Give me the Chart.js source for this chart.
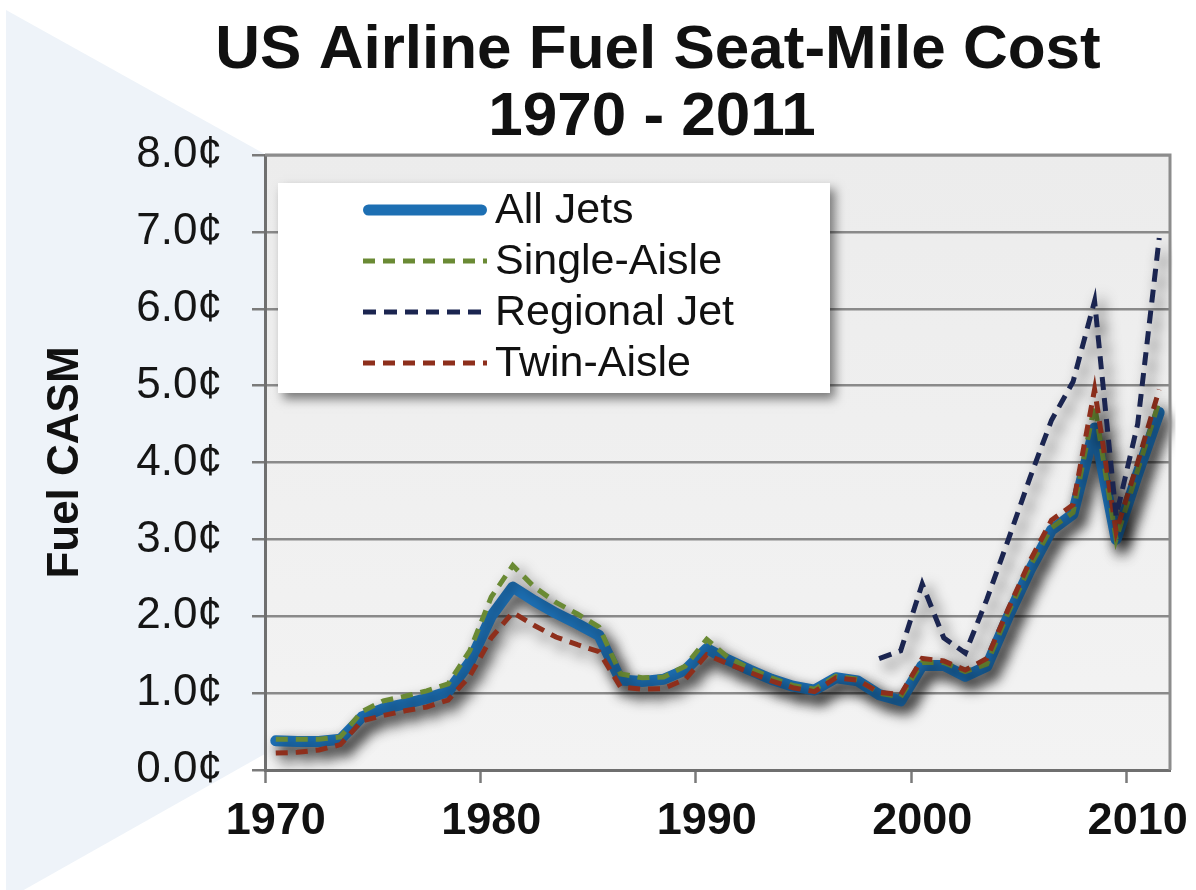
<!DOCTYPE html>
<html>
<head>
<meta charset="utf-8">
<title>US Airline Fuel Seat-Mile Cost 1970 - 2011</title>
<script src="https://cdn.jsdelivr.net/npm/chart.js@4.4.1/dist/chart.umd.min.js"></script>
<style>
  html, body { margin: 0; padding: 0; background: #ffffff; }
  #wrap { width: 1196px; height: 890px; position: relative; }
</style>
</head>
<body>
<div id="wrap"><canvas id="chart" width="1196" height="890"></canvas></div>
<script>
// Fuel cost per available seat-mile, US cents
const years = [
  1970, 1971, 1972, 1973, 1974, 1975, 1976, 1977, 1978, 1979,
  1980, 1981, 1982, 1983, 1984, 1985, 1986, 1987, 1988, 1989,
  1990, 1991, 1992, 1993, 1994, 1995, 1996, 1997, 1998, 1999,
  2000, 2001, 2002, 2003, 2004, 2005, 2006, 2007, 2008, 2009,
  2010, 2011
];

const allJets = [
  0.38, 0.37, 0.37, 0.40, 0.69, 0.80, 0.86, 0.93, 1.02, 1.40,
  2.00, 2.38, 2.20, 2.04, 1.90, 1.75, 1.17, 1.15, 1.18, 1.30,
  1.58, 1.43, 1.30, 1.18, 1.09, 1.04, 1.20, 1.16, 0.98, 0.90,
  1.36, 1.36, 1.22, 1.35, 2.00, 2.60, 3.12, 3.33, 4.45, 3.00,
  3.85, 4.65
];

const singleAisle = [
  0.40, 0.40, 0.40, 0.43, 0.76, 0.90, 0.96, 1.03, 1.12, 1.55,
  2.25, 2.66, 2.38, 2.18, 2.03, 1.86, 1.25, 1.20, 1.21, 1.35,
  1.70, 1.46, 1.32, 1.20, 1.10, 1.05, 1.22, 1.18, 1.00, 0.95,
  1.40, 1.40, 1.28, 1.38, 2.05, 2.65, 3.15, 3.35, 4.75, 3.00,
  3.90, 4.80
];

const regionalJet = [
  null, null, null, null, null, null, null, null, null, null,
  null, null, null, null, null, null, null, null, null, null,
  null, null, null, null, null, null, null, null, 1.45, 1.55,
  2.42, 1.72, 1.52, 2.22, 3.00, 3.80, 4.55, 5.05, 6.10, 3.30,
  4.50, 6.92
];

const twinAisle = [
  0.22, 0.23, 0.26, 0.33, 0.64, 0.71, 0.77, 0.82, 0.91, 1.22,
  1.72, 2.05, 1.88, 1.73, 1.63, 1.54, 1.08, 1.05, 1.06, 1.18,
  1.50, 1.38, 1.27, 1.16, 1.07, 1.02, 1.20, 1.17, 1.01, 0.98,
  1.45, 1.42, 1.30, 1.45, 2.10, 2.72, 3.25, 3.45, 4.95, 3.10,
  4.00, 4.95
];

const titleLines = ['US Airline Fuel Seat-Mile Cost', '1970 - 2011'];
const yTicks = [0, 1, 2, 3, 4, 5, 6, 7, 8];

const FONT = '"Liberation Sans", Arial, Helvetica, sans-serif';
Chart.defaults.font.family = FONT;

// Page backdrop: white sheet, pale blue chevron on the left, grey plot panel
const backdrop = {
  id: 'backdrop',
  beforeDraw(chart) {
    const { ctx, chartArea: a, width, height } = chart;
    ctx.save();
    ctx.fillStyle = '#ffffff';
    ctx.fillRect(0, 0, width, height);
    ctx.fillStyle = '#eef3f9';
    ctx.beginPath();
    ctx.moveTo(6, 10);
    ctx.lineTo(800, 452);
    ctx.lineTo(6, 900);
    ctx.closePath();
    ctx.fill();
    const g = ctx.createLinearGradient(0, a.top, 0, a.bottom);
    g.addColorStop(0, '#ececec');
    g.addColorStop(1, '#f3f3f3');
    ctx.fillStyle = g;
    ctx.fillRect(a.left, a.top, a.right - a.left, a.bottom - a.top);
    ctx.restore();
  }
};

// Soft drop shadow under every series line
const lineShadow = {
  id: 'lineShadow',
  beforeDatasetDraw(chart) {
    const ctx = chart.ctx;
    ctx.save();
    ctx.shadowColor = 'rgba(0,0,0,0.8)';
    ctx.shadowBlur = 14;
    ctx.shadowOffsetX = 6;
    ctx.shadowOffsetY = 8;
  },
  afterDatasetDraw(chart) {
    chart.ctx.restore();
  }
};

// Plot frame, boxed legend and two-line title
const decorations = {
  id: 'decorations',
  afterDatasetsDraw(chart) {
    const { ctx, chartArea: a } = chart;
    ctx.save();
    ctx.strokeStyle = '#8c8c8c';
    ctx.lineWidth = 3;
    ctx.beginPath();
    ctx.moveTo(a.left, a.top);
    ctx.lineTo(a.right, a.top);
    ctx.lineTo(a.right, a.bottom);
    ctx.stroke();
    ctx.restore();

    // legend box
    const x = a.left + 13, y = a.top + 28, w = 552, h = 210;
    ctx.save();
    ctx.shadowColor = 'rgba(0,0,0,0.5)';
    ctx.shadowBlur = 10;
    ctx.shadowOffsetX = 5;
    ctx.shadowOffsetY = 6;
    ctx.fillStyle = '#ffffff';
    ctx.fillRect(x, y, w, h);
    ctx.restore();

    chart.data.datasets.forEach((ds, i) => {
      const cy = y + 27 + i * 51;
      const round = ds.borderCapStyle === 'round';
      const half = round ? ds.borderWidth / 2 : 0;
      ctx.save();
      ctx.strokeStyle = ds.borderColor;
      ctx.lineWidth = ds.borderWidth;
      ctx.setLineDash(ds.borderDash || []);
      ctx.lineCap = round ? 'round' : 'butt';
      ctx.beginPath();
      ctx.moveTo(x + 85 + half, cy);
      ctx.lineTo(x + 209 - half, cy);
      ctx.stroke();
      ctx.restore();
      ctx.save();
      ctx.fillStyle = '#111111';
      ctx.font = '43px ' + FONT;
      ctx.textAlign = 'left';
      ctx.textBaseline = 'middle';
      ctx.fillText(ds.label, x + 217, cy + 1);
      ctx.restore();
    });
  },
  afterDraw(chart) {
    const ctx = chart.ctx;
    ctx.save();
    ctx.fillStyle = '#111111';
    ctx.font = 'bold 62px ' + FONT;
    ctx.textAlign = 'center';
    ctx.textBaseline = 'alphabetic';
    ctx.fillText(titleLines[0], 658, 68);
    ctx.fillText(titleLines[1], 652, 135);
    ctx.restore();
  }
};

new Chart(document.getElementById('chart'), {
  type: 'line',
  data: {
    labels: years,
    datasets: [
      { label: 'All Jets', data: allJets, borderColor: '#1d6fb3', borderWidth: 11,
        borderCapStyle: 'round', borderJoinStyle: 'round', order: 4 },
      { label: 'Single-Aisle', data: singleAisle, borderColor: '#6a8a34', borderWidth: 5,
        borderDash: [12, 8], order: 3 },
      { label: 'Regional Jet', data: regionalJet, borderColor: '#1b2550', borderWidth: 5,
        borderDash: [13, 8], order: 1 },
      { label: 'Twin-Aisle', data: twinAisle, borderColor: '#8e2f1c', borderWidth: 5,
        borderDash: [12, 8], order: 2 }
    ]
  },
  options: {
    responsive: false,
    animation: false,
    devicePixelRatio: 1,
    layout: { padding: { top: 155, right: 26, bottom: 0, left: 0 } },
    elements: {
      point: { radius: 0, hoverRadius: 0 },
      line: { tension: 0, fill: false }
    },
    plugins: {
      legend: { display: false },
      title: { display: false },
      tooltip: { enabled: false }
    },
    scales: {
      x: {
        type: 'category',
        offset: true,
        grid: {
          offset: true,
          drawOnChartArea: false,
          drawTicks: true,
          tickLength: 13,
          tickWidth: 2.5,
          tickColor: (c) => (years[c.index] % 10 === 0 ? '#7a7a7a' : 'rgba(0,0,0,0)')
        },
        border: { display: true, color: '#6f6f6f', width: 3 },
        ticks: {
          autoSkip: false,
          maxRotation: 0,
          minRotation: 0,
          padding: 12,
          color: '#111111',
          font: { size: 45, weight: 'bold' },
          callback: (v, i) => (years[i] % 10 === 0 ? String(years[i]) : '')
        },
        afterFit: (s) => { s.height = 120; }
      },
      y: {
        min: 0,
        max: 8,
        afterBuildTicks: (s) => { s.ticks = yTicks.map(v => ({ value: v })); },
        grid: { color: '#8a8a8a', lineWidth: 2.5, tickLength: 13, tickColor: '#7a7a7a' },
        border: { display: true, color: '#6f6f6f', width: 3 },
        ticks: {
          padding: 30,
          color: '#151515',
          font: { size: 44 },
          callback: (v) => Number(v).toFixed(1) + '\u00a2'
        },
        title: {
          display: true,
          text: 'Fuel CASM',
          color: '#111111',
          font: { size: 44, weight: 'bold', lineHeight: 1 },
          padding: { top: 44, bottom: 0 }
        },
        afterFit: (s) => { s.width = 265; }
      }
    }
  },
  plugins: [backdrop, lineShadow, decorations]
});
</script>
</body>
</html>
